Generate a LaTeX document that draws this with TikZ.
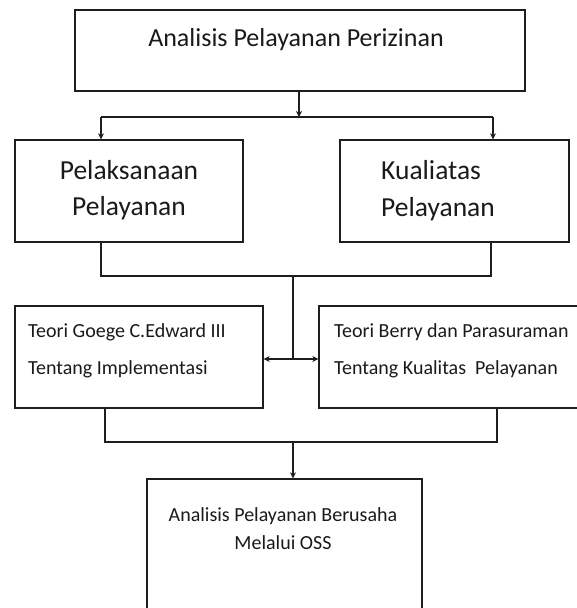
\documentclass[tikz,border=0pt]{standalone}
\usepackage{fontspec}
\setmainfont{Carlito}
\usetikzlibrary{arrows.meta}
\begin{document}
\begin{tikzpicture}[x=1pt,y=-1pt,
  box/.style={draw=linec,line width=1.4pt,rectangle,inner sep=0pt},
  conn/.style={draw=linec,line width=1.4pt},
  arr/.style={conn,-{Stealth[length=6pt,width=6pt]}},
  darr/.style={conn,{Stealth[length=6pt,width=6pt]}-{Stealth[length=6pt,width=6pt]}},
  txt/.style={text=textc,inner sep=0pt}]
\definecolor{linec}{HTML}{1E1E1E}
\definecolor{textc}{HTML}{1A1A1A}
\useasboundingbox[fill=white] (0,0) rectangle (576,608);
% boxes
\node[box,minimum width=450pt,minimum height=81pt] (top) at (300,50.5) {};
\node[box,minimum width=228pt,minimum height=102pt] (pel) at (129,191) {};
\node[box,minimum width=229pt,minimum height=102pt] (kual) at (454.5,191) {};
\node[box,minimum width=248pt,minimum height=102pt] (teo1) at (139,357) {};
\node[box,minimum width=270pt,minimum height=102pt] (teo2) at (454,357) {};
\node[box,minimum width=275pt,minimum height=150pt] (bot) at (284.5,554) {};
% texts
\node[txt,font=\fontsize{26}{30}\selectfont] (ttop) at (296,40) {Analisis Pelayanan Perizinan};
\node[txt,align=center,font=\fontsize{27.5}{36.5}\selectfont] (tpel) at (129,190) {Pelaksanaan\\Pelayanan};
\node[txt,align=left,anchor=west,font=\fontsize{27.5}{36.5}\selectfont] (tkual) at (381,190.5) {Kualiatas\\Pelayanan};
\node[txt,align=left,anchor=west,font=\fontsize{20}{37}\selectfont] (tteo1) at (28,351) {Teori Goege C.Edward III\\Tentang Implementasi};
\node[txt,align=left,anchor=west,font=\fontsize{20}{37}\selectfont] (tteo2) at (334,351) {Teori Berry dan Parasuraman\\Tentang Kualitas\ \ Pelayanan};
\node[txt,align=center,font=\fontsize{20}{28}\selectfont] (tbot) at (283,529) {Analisis Pelayanan Berusaha\\Melalui OSS};
% connectors
\coordinate (j1) at (299,117);
\coordinate (jl) at (101,117);
\coordinate (jr) at (493,117);
\draw[arr] (top.south -| j1) -- (j1);
\draw[conn] (jl) -- (jr);
\draw[arr] (jl) -- (jl |- pel.north);
\draw[arr] (jr) -- (jr |- kual.north);
\coordinate (p1) at (101,276);
\coordinate (p2) at (491,276);
\coordinate (j2) at (293,276);
\coordinate (j3) at (293,359);
\draw[conn] (p1 |- pel.south) -- (p1) -- (p2) -- (p2 |- kual.south);
\draw[conn] (j2) -- (j3);
\draw[darr] (j3 -| teo1.east) -- (j3 -| teo2.west);
\coordinate (q1) at (105,442);
\coordinate (q2) at (497,442);
\coordinate (j4) at (293,442);
\draw[conn] (q1 |- teo1.south) -- (q1) -- (q2) -- (q2 |- teo2.south);
\draw[arr] (j4) -- (j4 |- bot.north);
\end{tikzpicture}
\end{document}
